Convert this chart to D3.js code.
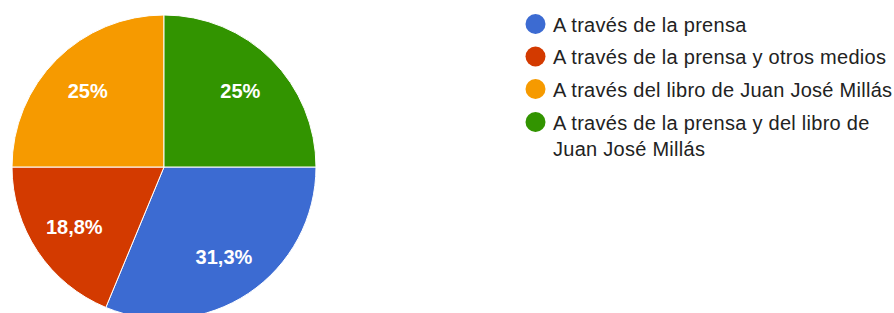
<!DOCTYPE html>
<html>
<head>
<meta charset="utf-8">
<script src="https://cdn.jsdelivr.net/npm/d3@7"></script>
<style>
  body { margin: 0; background: #fff; }
  svg { font-family: "Liberation Sans", Arial, sans-serif; }
</style>
</head>
<body>
<svg id="chart" width="894" height="313"></svg>
<script>
// answers, counts and colours
var categories = ["A través de la prensa", "A través de la prensa y otros medios",
  "A través del libro de Juan José Millás", "A través de la prensa y del libro de Juan José Millás"];
var counts = [5, 3, 4, 4];
var sliceLabels = ["31,3%", "18,8%", "25%", "25%"];
var colors = ["#3c6bd2", "#d33a00", "#f69a00", "#329400"];

var svg = d3.select("#chart");
var cx = 164, cy = 167, r = 152;

var pie = d3.pie()
  .sort(null)
  .startAngle(Math.PI / 2)
  .endAngle(Math.PI / 2 + 2 * Math.PI)
  .value(function(d) { return d; });

var arc = d3.arc().innerRadius(0).outerRadius(r);
var labelArc = d3.arc().innerRadius(r * 0.71).outerRadius(r * 0.71);

var g = svg.append("g").attr("transform", "translate(" + cx + "," + cy + ")");

g.selectAll("path")
  .data(pie(counts))
  .enter()
  .append("path")
    .attr("d", arc)
    .style("fill", function(d, i) { return colors[i]; })
    .style("stroke", "#fff")
    .style("stroke-width", 1);

g.selectAll("text")
  .data(pie(counts))
  .enter()
  .append("text")
    .attr("transform", function(d) { return "translate(" + labelArc.centroid(d) + ")"; })
    .attr("text-anchor", "middle")
    .attr("dy", "0.36em")
    .text(function(d, i) { return sliceLabels[i]; })
    .style("fill", "#fff")
    .style("font-size", "20px")
    .style("font-weight", "bold");

// legend
var legend = svg.append("g");
var rowY = [24, 56.5, 89, 122];

legend.selectAll("circle")
  .data(colors)
  .enter()
  .append("circle")
    .attr("cx", 535.5)
    .attr("cy", function(d, i) { return rowY[i]; })
    .attr("r", 10)
    .style("fill", function(d) { return d; });

var wrapped = [[categories[0]], [categories[1]], [categories[2]],
  ["A través de la prensa y del libro de", "Juan José Millás"]];

legend.selectAll("text")
  .data(wrapped)
  .enter()
  .append("text")
    .attr("x", 553)
    .attr("y", function(d, i) { return rowY[i] + 7.5; })
    .style("font-size", "20px")
    .style("letter-spacing", "0.27px")
    .style("fill", "#222")
    .each(function(lines) {
      var t = d3.select(this);
      lines.forEach(function(l, j) {
        t.append("tspan").attr("x", 553).attr("dy", j == 0 ? 0 : 26).text(l);
      });
    });
</script>
</body>
</html>
